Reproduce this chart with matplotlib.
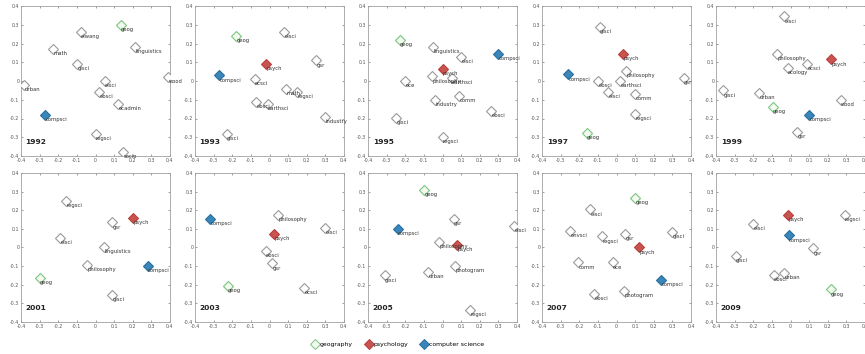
import numpy as np
import matplotlib
matplotlib.use('Agg')
import matplotlib.pyplot as plt
from matplotlib.lines import Line2D

# Coordenadas, un panel por año
years = [1992, 1993, 1995, 1997, 1999, 2001, 2003, 2005, 2007, 2009]

labels_1992 = ['geog', 'elwang', 'linguistics', 'math', 'gisci', 'urban', 'elsci', 'ebsci',
               'ecadmin', 'wood', 'compsci', 'regsci', 'socio']
x_1992 = [0.135, -0.08, 0.21, -0.23, -0.10, -0.385, 0.05, 0.02, 0.12, 0.39, -0.27, 0.0, 0.15]
y_1992 = [0.30, 0.26, 0.18, 0.17, 0.09, -0.02, 0.0, -0.06, -0.12, 0.02, -0.18, -0.28, -0.38]

labels_1993 = ['geog', 'elsci', 'psych', 'gsr', 'compsci', 'ecsci', 'math', 'regsci', 'ebsci',
               'earthsci', 'industry', 'gisci']
x_1993 = [-0.18, 0.08, -0.02, 0.25, -0.27, -0.08, 0.09, 0.15, -0.07, -0.01, 0.30, -0.23]
y_1993 = [0.24, 0.26, 0.09, 0.11, 0.03, 0.01, -0.04, -0.06, -0.11, -0.12, -0.19, -0.28]

labels_1995 = ['geog', 'linguistics', 'elsci', 'compsci', 'psych', 'philosophy', 'earthsci',
               'ece', 'industry', 'comm', 'ebsci', 'gisci', 'regsci']
x_1995 = [-0.23, -0.05, 0.10, 0.30, 0.0, -0.055, 0.05, -0.20, -0.04, 0.09, 0.26, -0.25, 0.0]
y_1995 = [0.22, 0.18, 0.13, 0.145, 0.065, 0.025, 0.015, 0.0, -0.10, -0.08, -0.16, -0.195, -0.30]

labels_1997 = ['gisci', 'psych', 'compsci', 'philosophy', 'ebsci', 'earthsci', 'elsci', 'comm',
               'regsci', 'geog', 'gsr']
x_1997 = [-0.09, 0.035, -0.26, 0.05, -0.10, 0.02, -0.045, 0.10, 0.10, -0.16, 0.36]
y_1997 = [0.29, 0.145, 0.035, 0.055, 0.0, 0.0, -0.06, -0.07, -0.175, -0.275, 0.015]

labels_1999 = ['elsci', 'philosophy', 'psych', 'ecsci', 'ecology', 'gisci', 'urban', 'geog',
               'compsci', 'wood', 'gsr']
x_1999 = [-0.035, -0.07, 0.22, 0.09, -0.015, -0.36, -0.17, -0.095, 0.10, 0.27, 0.035]
y_1999 = [0.345, 0.145, 0.115, 0.09, 0.07, -0.05, -0.065, -0.14, -0.18, -0.10, -0.27]

labels_2001 = ['regsci', 'psych', 'gsr', 'elsci', 'linguistics', 'compsci', 'philosophy',
               'geog', 'gisci']
x_2001 = [-0.16, 0.20, 0.09, -0.19, 0.045, 0.28, -0.045, -0.30, 0.09]
y_2001 = [0.25, 0.16, 0.135, 0.05, 0.005, -0.10, -0.095, -0.165, -0.255]

labels_2003 = ['compsci', 'philosophy', 'elsci', 'psych', 'ebsci', 'gsr', 'geog', 'ecsci']
x_2003 = [-0.32, 0.045, 0.30, 0.025, -0.02, 0.015, -0.225, 0.185]
y_2003 = [0.155, 0.175, 0.105, 0.075, -0.02, -0.085, -0.205, -0.215]

labels_2005 = ['geog', 'gsr', 'elsci', 'compsci', 'philosophy', 'psych', 'photogram', 'urban',
               'gisci', 'regsci']
x_2005 = [-0.10, 0.06, 0.385, -0.24, -0.02, 0.08, 0.065, -0.08, -0.31, 0.15]
y_2005 = [0.31, 0.155, 0.115, 0.10, 0.03, 0.015, -0.10, -0.13, -0.15, -0.335]

labels_2007 = ['geog', 'elsci', 'envsci', 'regsci', 'gsr', 'gisci', 'psych', 'comm', 'ece',
               'compsci', 'ebsci', 'photogram']
x_2007 = [0.10, -0.14, -0.25, -0.08, 0.045, 0.30, 0.12, -0.205, -0.02, 0.24, -0.12, 0.04]
y_2007 = [0.265, 0.205, 0.09, 0.06, 0.075, 0.085, 0.0, -0.08, -0.08, -0.175, -0.25, -0.235]

labels_2009 = ['psych', 'regsci', 'elsci', 'compsci', 'gsr', 'gisci', 'ebsci', 'urban', 'geog']
x_2009 = [-0.015, 0.29, -0.20, -0.01, 0.12, -0.295, -0.09, -0.035, 0.215]
y_2009 = [0.175, 0.175, 0.125, 0.065, -0.005, -0.045, -0.145, -0.135, -0.225]

panels = [
    (labels_1992, x_1992, y_1992), (labels_1993, x_1993, y_1993),
    (labels_1995, x_1995, y_1995), (labels_1997, x_1997, y_1997),
    (labels_1999, x_1999, y_1999), (labels_2001, x_2001, y_2001),
    (labels_2003, x_2003, y_2003), (labels_2005, x_2005, y_2005),
    (labels_2007, x_2007, y_2007), (labels_2009, x_2009, y_2009),
]

legend_names = ['geography', 'psychology', 'computer science']

# estilo de cada marcador: (borde, relleno)
estilos = {
    'geog': ('#7cc47c', '#f2faf2'),
    'psych': ('#b8403d', '#c9534f'),
    'compsci': ('#2a6f9e', '#3a86bb'),
}
estilo_base = ('#9a9a9a', 'white')

fig = plt.figure(figsize=(8.65, 3.54), dpi=100)

lefts = [21, 195, 368, 542, 716]
W, H = 865.0, 354.0
ancho = 149

for i, (year, (labs, xs, ys)) in enumerate(zip(years, panels)):
    fila = i // 5
    col = i % 5
    if fila == 0:
        top, bot = 6, 156
    else:
        top, bot = 173, 322
    ax = fig.add_axes([lefts[col] / W, 1 - bot / H, ancho / W, (bot - top) / H])

    for lab, x, y in zip(labs, xs, ys):
        ec, fc = estilos.get(lab, estilo_base)
        ax.plot(x, y, marker='D', markersize=5.6, markeredgewidth=0.8,
                markeredgecolor=ec, markerfacecolor=fc, linestyle='none', zorder=3)
        ax.annotate(lab, (x, y), xytext=(0.3, -3.4), textcoords='offset points',
                    fontsize=3.8, color='#333333', ha='left', va='center',
                    annotation_clip=False, zorder=4)

    ax.text(-0.375, -0.335, str(year), fontsize=5.4, fontweight='bold', color='#222222')

    ax.set_xlim(-0.4, 0.4)
    ax.set_ylim(-0.4, 0.4)
    ticks = np.round(np.arange(-0.4, 0.41, 0.1), 1)
    tick_labels = ['0' if t == 0 else ('%g' % t) for t in ticks]
    ax.set_xticks(ticks)
    ax.set_xticklabels(tick_labels)
    ax.set_yticks(ticks)
    ax.set_yticklabels(tick_labels)
    ax.tick_params(direction='in', length=1.5, width=0.4, labelsize=3.4,
                   colors='#555555', top=True, right=True, pad=1.2)
    for s in ax.spines.values():
        s.set_color('#a0a0a0')
        s.set_linewidth(0.6)

handles = []
for key, name in zip(['geog', 'psych', 'compsci'], legend_names):
    ec, fc = estilos[key]
    handles.append(Line2D([], [], marker='D', markersize=4.8, markeredgewidth=0.7,
                          markeredgecolor=ec, markerfacecolor=fc, linestyle='none',
                          label=name))
fig.legend(handles=handles, loc='center', bbox_to_anchor=(0.46, 0.026), ncol=3,
           frameon=False, fontsize=4.4, handletextpad=0.2, columnspacing=2.2,
           handlelength=1.0)

fig.savefig('out.png', dpi=100)
